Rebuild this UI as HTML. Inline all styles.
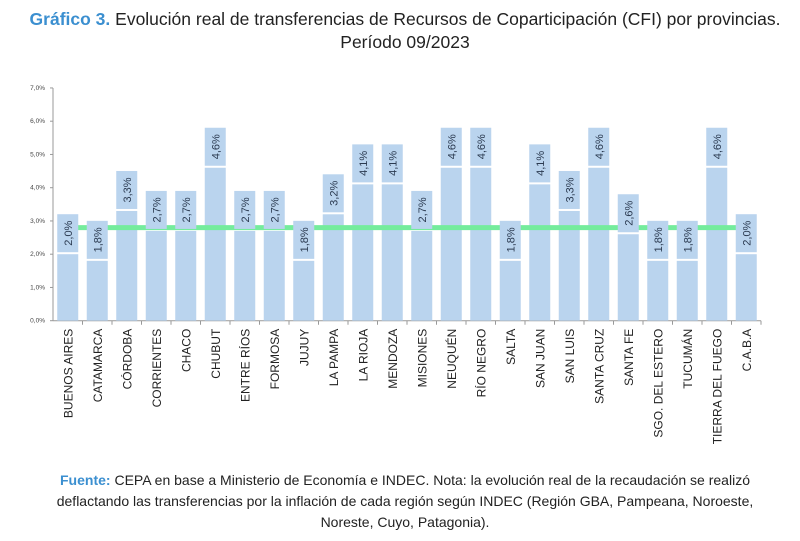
<!DOCTYPE html>
<html><head><meta charset="utf-8"><style>
body{margin:0;width:800px;height:541px;background:#fff;font-family:"Liberation Sans",sans-serif;overflow:hidden}
.title{position:absolute;left:0;top:8px;width:810px;text-align:center;font-size:17.5px;color:#222;line-height:23px}
.title b{color:#3b8fd0}
.foot{position:absolute;left:0;top:470px;width:810px;text-align:center;font-size:14px;color:#222;line-height:21px}
.foot b{color:#3b8fd0;font-weight:bold}
</style></head><body>
<div class="title"><b>Gráfico 3.</b> Evolución real de transferencias de Recursos de Coparticipación (CFI) por provincias.<br>Período 09/2023</div>
<svg id="chart" width="800" height="470" style="position:absolute;left:0;top:0"></svg>
<div class="foot"><b>Fuente:</b> CEPA en base a Ministerio de Economía e INDEC. Nota: la evolución real de la recaudación se realizó<br>deflactando las transferencias por la inflación de cada región según INDEC (Región GBA, Pampeana, Noroeste,<br>Noreste, Cuyo, Patagonia).</div>
<script>
const categories=["BUENOS AIRES","CATAMARCA","CÓRDOBA","CORRIENTES","CHACO","CHUBUT","ENTRE RÍOS","FORMOSA","JUJUY","LA PAMPA","LA RIOJA","MENDOZA","MISIONES","NEUQUÉN","RÍO NEGRO","SALTA","SAN JUAN","SAN LUIS","SANTA CRUZ","SANTA FE","SGO. DEL ESTERO","TUCUMÁN","TIERRA DEL FUEGO","C.A.B.A"];
const values=[2.0,1.8,3.3,2.7,2.7,4.6,2.7,2.7,1.8,3.2,4.1,4.1,2.7,4.6,4.6,1.8,4.1,3.3,4.6,2.6,1.8,1.8,4.6,2.0];
const average=[2.8];
const yTicks=[0,1,2,3,4,5,6,7];
const NS="http://www.w3.org/2000/svg";
const svg=document.getElementById('chart');
const x0=53,step=29.5,y0=320.7,pxPer=33.25,bw=21;
function y(v){return y0-v*pxPer;}
function xc(i){return x0+step*(i+0.5);}
function mk(t,a){const e=document.createElementNS(NS,t);for(const k in a)e.setAttribute(k,a[k]);svg.appendChild(e);return e;}
let e;
e=mk('line',{x1:x0,x2:x0,y1:y(7),y2:y0,stroke:'#999'});


e=mk('line',{x1:x0,x2:x0+step*categories.length,y1:y0,y2:y0,stroke:'#999'});


yTicks.forEach(t=>{
  mk('line',{x1:x0-3,x2:x0,y1:y(t),y2:y(t),stroke:'#999'});
  e=mk('text',{x:x0-8,y:y(t)+2,'text-anchor':'end','font-size':'6.5',fill:'#444'});
  e.textContent=t.toFixed(1).replace('.',',')+'%';
  
  
});
categories.forEach((c,i)=>{
  mk('line',{x1:x0+step*(i+1),x2:x0+step*(i+1),y1:y0,y2:y0+4,stroke:'#999'});
  const v=values[i],cx=xc(i);
  e=mk('rect',{x:cx-bw/2,y:y(v),width:bw,height:y0-y(v),fill:'#bad4ee'});
  
  
  e=mk('text',{x:0,y:0,'text-anchor':'end','font-size':'12',fill:'#222',transform:`translate(${cx+4.5},${y0+8}) rotate(-90)`});
  e.textContent=c;
  
  
});
e=mk('line',{x1:x0+step*0.5,x2:x0+step*categories.length-step*0.5,y1:y(average[0]),y2:y(average[0]),stroke:'#74ec9c','stroke-width':5});


values.forEach((v,i)=>{
  const cx=xc(i);
  e=mk('rect',{x:cx-bw/2,y:y(v)-40,width:bw,height:38,fill:'#bad4ee'});
  
  
  e=mk('text',{x:0,y:0,'text-anchor':'middle','font-size':'11',fill:'#2b3a50',transform:`translate(${cx+4},${y(v)-21}) rotate(-90)`});
  e.textContent=v.toFixed(1).replace('.',',')+'%';
  
  
});
</script>
</body></html>
